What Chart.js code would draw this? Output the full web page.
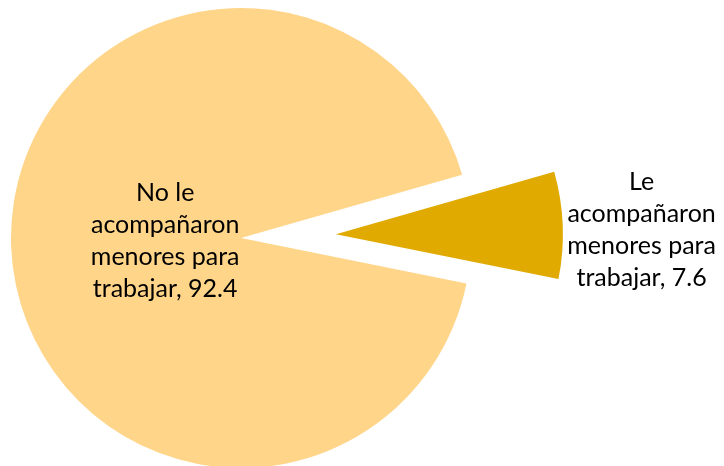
<!DOCTYPE html>
<html>
<head>
<meta charset="utf-8">
<script src="https://cdn.jsdelivr.net/npm/chart.js@4.4.1/dist/chart.umd.min.js"></script>
<style>
  html, body { margin: 0; padding: 0; background: #fff; }
  #wrap { width: 724px; height: 466px; }
</style>
</head>
<body>
<div id="wrap"><canvas id="myChart" width="724" height="466"></canvas></div>
<script>
// data
var etiquetas = [
    ['No le', 'acompañaron', 'menores para', 'trabajar, 92.4'],
    ['Le', 'acompañaron', 'menores para', 'trabajar, 7.6']
];
var valores = [92.4, 7.6];
var colores = ['#FFD58A', '#E0AA00'];

// chart.js grows an offset arc's radius and trims its angle a bit;
// undo both so the exploded slice keeps the pie's radius and its true angle
var radioPlugin = {
    id: 'radioFix',
    beforeDatasetsDraw: function (chart) {
        chart.getDatasetMeta(0).data.forEach(function (arc) {
            var off = (arc.options.offset || 0) / 4;
            if (!off) return;
            if (arc._base === undefined) {
                arc._base = { r: arc.outerRadius, s: arc.startAngle, e: arc.endAngle };
            }
            var fix = 1 - Math.sin(Math.min(Math.PI, arc.circumference));
            var radOff = off * fix;
            var rDib = arc._base.r - 3;
            arc.outerRadius = rDib - radOff;
            var d = radOff / (Math.PI * rDib);
            arc.startAngle = arc._base.s - d / 2;
            arc.endAngle = arc._base.e + d / 2;
        });
    }
};

// text labels drawn on top of the slices
var etiquetasPlugin = {
    id: 'etiquetas',
    afterDatasetsDraw: function (chart) {
        var ctx = chart.ctx;
        var arcs = chart.getDatasetMeta(0).data;
        var R = arcs[0].outerRadius;
        ctx.save();
        ctx.font = '25px Lato';
        ctx.fillStyle = '#000';
        ctx.textAlign = 'center';
        ctx.textBaseline = 'middle';
        var factores = [0.33, 1.33];
        arcs.forEach(function (arc, i) {
            var p = arc.getProps(['x', 'y', 'startAngle', 'endAngle']);
            var mid = (p.startAngle + p.endAngle) / 2;
            var off = (arc.options.offset || 0) / 4;
            var r = off + R * factores[i];
            var cx = p.x + Math.cos(mid) * r;
            var cy = p.y + Math.sin(mid) * r + (i === 1 ? 8 : 0);
            var lineas = etiquetas[i];
            var lh = 32;
            var y0 = cy - (lineas.length - 1) * lh / 2;
            lineas.forEach(function (t, k) {
                ctx.fillText(t, cx, y0 + k * lh);
            });
        });
        ctx.restore();
    }
};

var grafico = new Chart(document.getElementById('myChart'), {
    type: 'pie',
    data: {
        labels: etiquetas.map(function (l) { return l.join(' '); }),
        datasets: [{
            data: valores,
            backgroundColor: colores,
            borderWidth: 0,
            offset: [0, 380]
        }]
    },
    options: {
        responsive: false,
        animation: false,
        rotation: 101.4,
        radius: 230,
        layout: { padding: { left: 0, right: 242, top: 10, bottom: 0 } },
        plugins: {
            legend: { display: false },
            tooltip: { enabled: false }
        }
    },
    plugins: [radioPlugin, etiquetasPlugin]
});
</script>
</body>
</html>
